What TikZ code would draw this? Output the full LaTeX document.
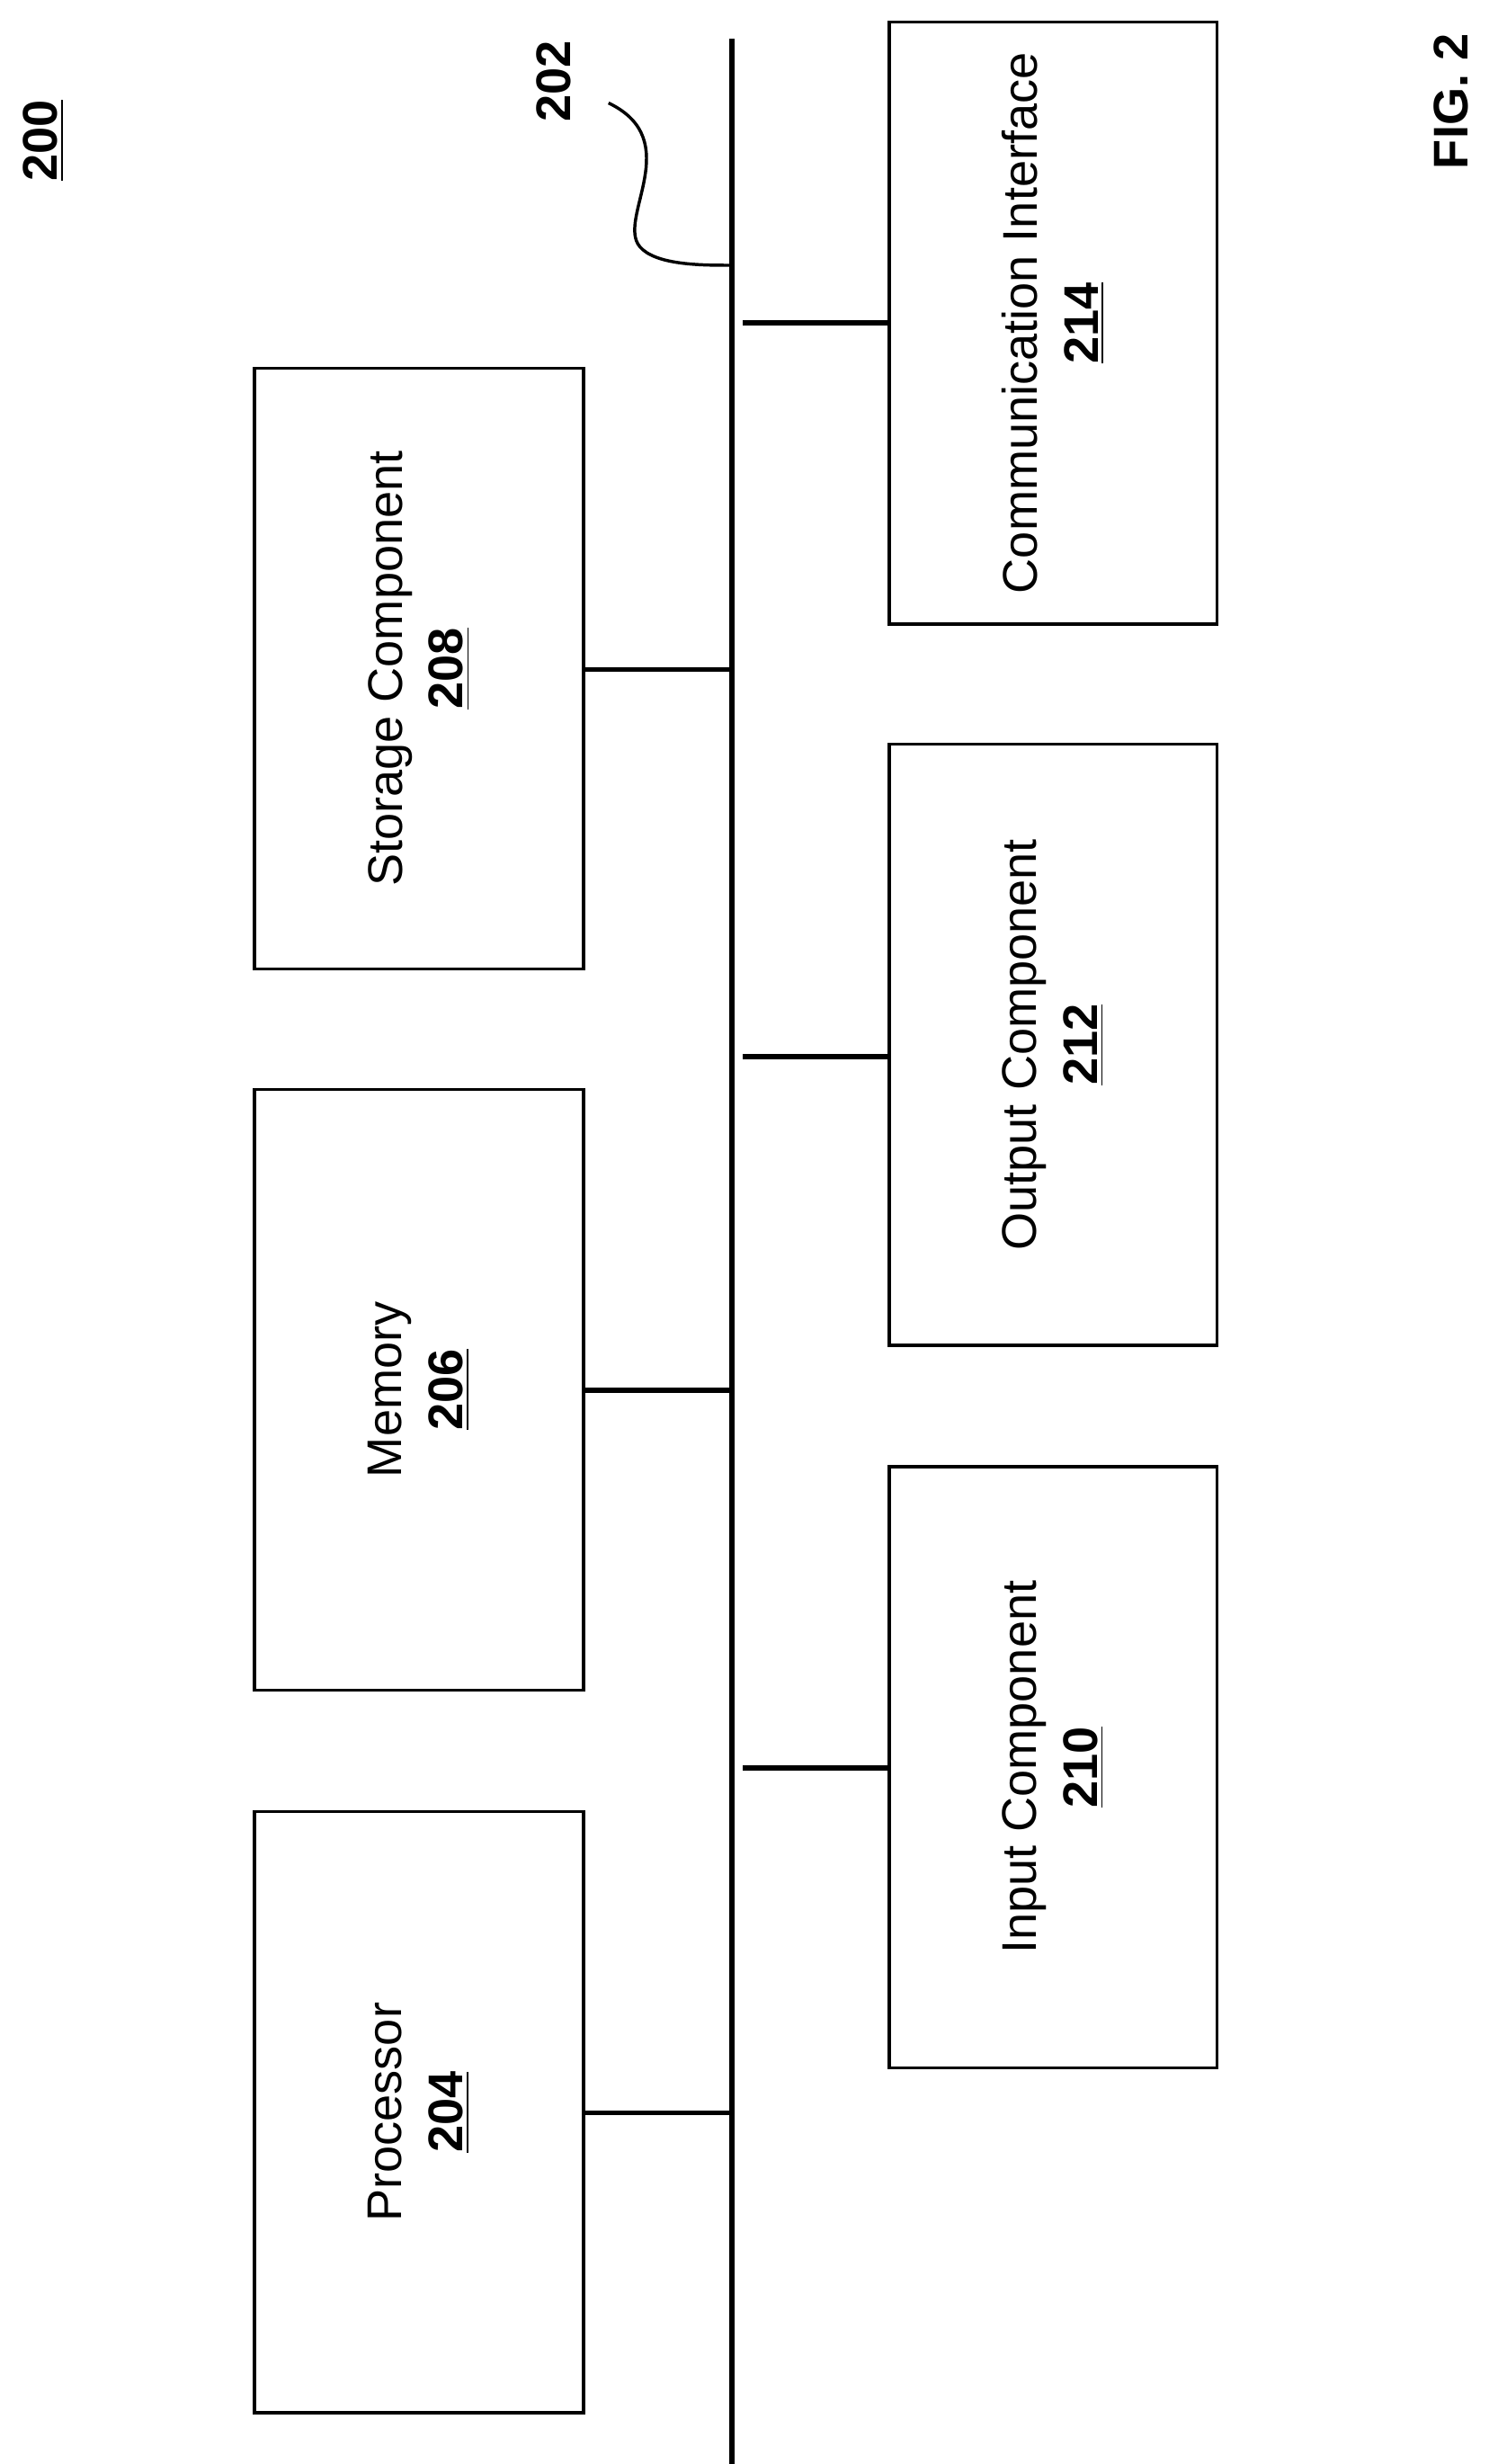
\documentclass[tikz,border=0pt]{standalone}
\usepackage{fontspec}
\setmainfont{Liberation Sans}
\begin{document}
\begin{tikzpicture}[x=0.5pt,y=-0.5pt,
  blk/.style={draw,line width=1pt,inner sep=0pt},
  lbl/.style={rotate=90,align=center,font=\fontsize{15.6}{19.5}\selectfont},
  conn/.style={line width=1.6pt}]
\useasboundingbox (0,0) rectangle (960,1579);
\newcommand{\num}[1]{\textbf{\underline{#1}}}
% boxes
\node[blk,minimum width=105.5pt,minimum height=192.5pt] (sto) at (268.5,428.5) {};
\node[blk,minimum width=105.5pt,minimum height=192.5pt] (mem) at (268.5,890.5) {};
\node[blk,minimum width=105.5pt,minimum height=192.5pt] (pro) at (268.5,1353.5) {};
\node[blk,minimum width=105pt,minimum height=193pt] (com) at (675,207) {};
\node[blk,minimum width=105pt,minimum height=192.5pt] (out) at (675,669.5) {};
\node[blk,minimum width=105pt,minimum height=192.5pt] (inp) at (675,1132.5) {};
\node[lbl] at (sto) {Storage Component\\\num{208}};
\node[lbl] at (mem) {Memory\\\num{206}};
\node[lbl] at (pro) {Processor\\\num{204}};
\node[lbl] at (com) {Communication Interface\\\num{214}};
\node[lbl] at (out) {Output Component\\\num{212}};
\node[lbl] at (inp) {Input Component\\\num{210}};
% bus
\coordinate (bt) at (469,25);
\coordinate (bb) at (469,1579);
\draw[conn] (bt) -- (bb);
\coordinate (b1) at (469,429);
\coordinate (b2) at (469,891);
\coordinate (b3) at (469,1354);
\coordinate (b4) at (476,207);
\coordinate (b5) at (476,677);
\coordinate (b6) at (476,1133);
\draw[conn] (sto.east |- b1) -- (b1);
\draw[conn] (mem.east |- b2) -- (b2);
\draw[conn] (pro.east |- b3) -- (b3);
\draw[conn] (b4) -- (com.west |- b4);
\draw[conn] (b5) -- (out.west |- b5);
\draw[conn] (b6) -- (inp.west |- b6);
% labels
\node[lbl,font=\fontsize{15.6}{19.5}\selectfont\bfseries] (l202) at (355,52) {202};
\coordinate (s0) at (390,66);
\coordinate (s1) at (469,170);
\draw[line width=1pt] (s0) .. controls (440,90) and (395,140) .. (410,158) .. controls (420,170) and (450,170) .. (s1);
\node[lbl,font=\fontsize{15.6}{19.5}\selectfont\bfseries] (l200) at (28,90) {\underline{200}};
\node[lbl,font=\fontsize{15.6}{19.5}\selectfont\bfseries] (fig) at (930,65) {FIG. 2};
\end{tikzpicture}
\end{document}
